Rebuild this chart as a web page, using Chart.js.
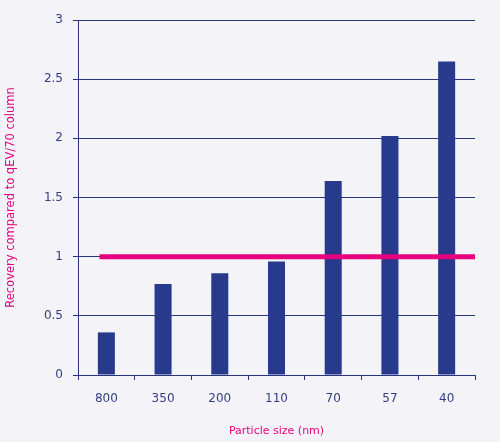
<!DOCTYPE html>
<html>
<head>
<meta charset="utf-8">
<script src="https://cdn.jsdelivr.net/npm/chart.js@4"></script>
<style>
html,body{margin:0;padding:0;background:#f3f3f8}
#wrap{width:500px;height:442px;position:relative}
</style>
</head>
<body>
<div id="wrap"><canvas id="recoveryChart"></canvas></div>
<script>

const sizes = ["800","350","200","110","70","57","40"]
const recovery = [0.36,0.77,0.86,0.96,1.64,2.02,2.65]

// reference line at 1 (qEV/70 column)
const refLineX = [-0.12,6.5]
const refLineY = [1,1]

const navy = "#2a3580"
const tickNavy = "#343d82"
const barBlue = "#283a8c"
const pink = "#e6007e"
const font = "DejaVu Sans"

const ctx = document.getElementById("recoveryChart")

new Chart(ctx,{
type:"bar",
data:{
labels:sizes,
datasets:[{
type:"line",
data:refLineX.map((x,i)=>({x:x,y:refLineY[i]})),
xAxisID:"x2",
borderColor:pink,
borderWidth:5,
pointRadius:0,
borderCapStyle:"butt",
clip:false,
order:0
},{
type:"bar",
data:recovery,
xAxisID:"x",
backgroundColor:barBlue,
barPercentage:0.3,
categoryPercentage:1,
grouped:false,
order:1
}]
},
options:{
responsive:true,
maintainAspectRatio:false,
animation:false,
layout:{ padding:{ top:20, right:25 } },
plugins:{
legend:{ display:false },
tooltip:{ enabled:false }
},
scales:{
x:{
type:"category",
offset:true,
grid:{
offset:true,
drawOnChartArea:false,
color:navy,
tickLength:5
},
border:{ color:navy },
ticks:{
color:tickNavy,
padding:12,
font:{ family:font, size:12 }
},
title:{
display:true,
text:"Particle size (nm)",
color:pink,
padding:{ top:5 },
font:{ family:font, size:11 }
},
afterFit:(axis)=>{ axis.height = 67 }
},
x2:{
type:"linear",
min:-0.5,
max:6.5,
offset:false,
display:false
},
y:{
min:0,
max:3,
ticks:{
stepSize:0.5,
color:tickNavy,
padding:10,
font:{ family:font, size:12 },
callback:(v)=>String(v)
},
grid:{
color:navy,
tickLength:5
},
border:{ color:navy },
title:{
display:true,
text:"Recovery compared to qEV/70 column",
color:pink,
padding:{ top:4, bottom:4 },
font:{ family:font, size:11.5 }
},
afterFit:(axis)=>{ axis.width = 78 }
}
}
}
})

</script>
</body>
</html>
